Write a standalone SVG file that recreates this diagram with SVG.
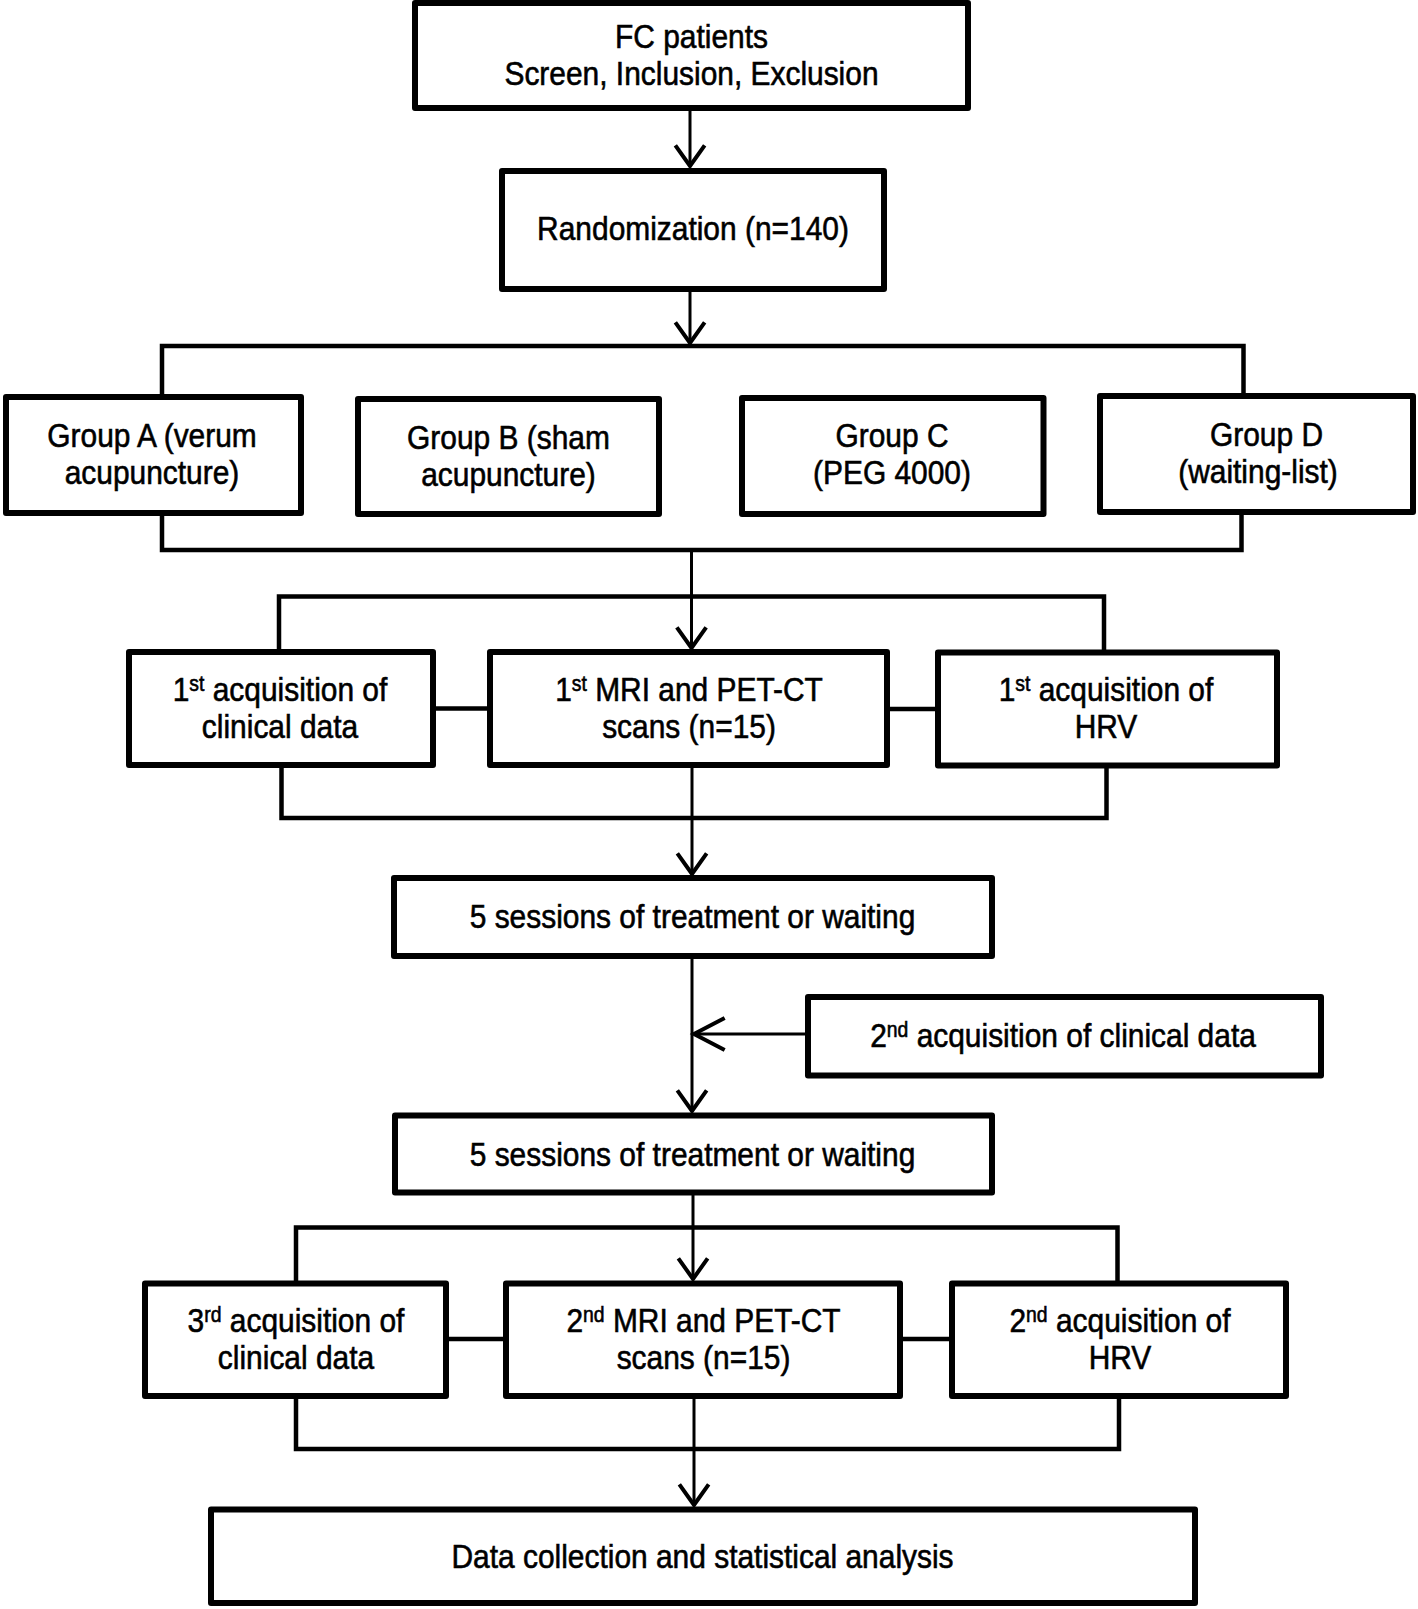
<svg xmlns="http://www.w3.org/2000/svg" width="1418" height="1609" viewBox="0 0 1418 1609">
<style>
.box{fill:#fff;stroke:#000;stroke-width:6;stroke-linejoin:round}
.ln{fill:none;stroke:#000;stroke-width:4.5;stroke-linejoin:miter}
.ar{fill:none;stroke:#000;stroke-width:3}
text{font-family:"Liberation Sans",Arial,sans-serif;font-size:34px;fill:#000;stroke:#000;stroke-width:0.6;text-anchor:middle}
.sup{font-size:22px}
</style>
<defs>
<marker id="ah" markerUnits="userSpaceOnUse" markerWidth="40" markerHeight="40" viewBox="-20 -15 24 30" refX="0" refY="0" orient="auto" overflow="visible">
<path d="M-15.5,-11 L0,0 L-15.5,11" fill="none" stroke="#000" stroke-width="3"/>
</marker>
<marker id="ahl" markerUnits="userSpaceOnUse" markerWidth="40" markerHeight="40" viewBox="-26 -15 30 30" refX="0" refY="0" orient="auto" overflow="visible">
<path d="M-23,-12 L0,0 L-23,12" fill="none" stroke="#000" stroke-width="3"/>
</marker>
</defs>
<rect width="1418" height="1609" fill="#fff"/>
<g id="connectors">
<path class="ln" d="M162,397 V346 H1243.5 V396"/>
<path class="ln" d="M162,513 V550 H1241.5 V512"/>
<path class="ln" d="M279,652 V596.5 H1104 V652.5"/>
<path class="ln" d="M281.5,765 V818 H1106.5 V765.5"/>
<path class="ln" d="M433,708.5 H490"/>
<path class="ln" d="M887,709 H938"/>
<path class="ln" d="M296,1283.5 V1227.5 H1117.5 V1283.5"/>
<path class="ln" d="M296,1396 V1449 H1119 V1396"/>
<path class="ln" d="M446,1339 H506"/>
<path class="ln" d="M900,1339 H952"/>
<path class="ar" d="M690,108 V166" marker-end="url(#ah)"/>
<path class="ar" d="M690,289 V343" marker-end="url(#ah)"/>
<path class="ar" d="M691.5,550 V648" marker-end="url(#ah)"/>
<path class="ar" d="M692,765 V874" marker-end="url(#ah)"/>
<path class="ar" d="M692,956 V1111"  marker-end="url(#ah)"/>
<path class="ar" d="M808,1034 H694" marker-end="url(#ahl)"/>
<path class="ar" d="M693,1192 V1279" marker-end="url(#ah)"/>
<path class="ar" d="M694,1396 V1505" marker-end="url(#ah)"/>
</g>
<g id="fc">
<rect class="box" x="415" y="3" width="553" height="105"/>
<text x="0" y="48" transform="matrix(0.88 0 0 1 691.5 0)">FC patients</text>
<text x="0" y="85" transform="matrix(0.88 0 0 1 691.5 0)">Screen, Inclusion, Exclusion</text>
</g>
<g id="randomization">
<rect class="box" x="502" y="171" width="382" height="118"/>
<text x="0" y="240" transform="matrix(0.88 0 0 1 693 0)">Randomization (n=140)</text>
</g>
<g id="groupA">
<rect class="box" x="6" y="397" width="295" height="116"/>
<text x="0" y="447.5" transform="matrix(0.88 0 0 1 152 0)">Group A (verum</text>
<text x="0" y="484" transform="matrix(0.88 0 0 1 152 0)">acupuncture)</text>
</g>
<g id="groupB">
<rect class="box" x="358" y="399" width="301" height="115"/>
<text x="0" y="449" transform="matrix(0.88 0 0 1 508.5 0)">Group B (sham</text>
<text x="0" y="486" transform="matrix(0.88 0 0 1 508.5 0)">acupuncture)</text>
</g>
<g id="groupC">
<rect class="box" x="742" y="398" width="301.5" height="116"/>
<text x="0" y="447" transform="matrix(0.88 0 0 1 892 0)">Group C</text>
<text x="0" y="484" transform="matrix(0.88 0 0 1 892 0)">(PEG 4000)</text>
</g>
<g id="groupD">
<rect class="box" x="1100" y="396" width="313" height="116"/>
<text x="0" y="446" transform="matrix(0.88 0 0 1 1266.5 0)">Group D</text>
<text x="0" y="483" transform="matrix(0.88 0 0 1 1258 0)">(waiting-list)</text>
</g>
<g id="clinical1">
<rect class="box" x="129" y="652" width="304" height="113"/>
<text x="0" y="701" transform="matrix(0.88 0 0 1 280 0)">1<tspan class="sup" dy="-10">st</tspan><tspan dy="10"> acquisition of</tspan></text>
<text x="0" y="738" transform="matrix(0.88 0 0 1 280 0)">clinical data</text>
</g>
<g id="mri1">
<rect class="box" x="490" y="652" width="397" height="113"/>
<text x="0" y="701" transform="matrix(0.88 0 0 1 689 0)">1<tspan class="sup" dy="-10">st</tspan><tspan dy="10"> MRI and PET-CT</tspan></text>
<text x="0" y="738" transform="matrix(0.88 0 0 1 689 0)">scans (n=15)</text>
</g>
<g id="hrv1">
<rect class="box" x="938" y="652.5" width="339" height="113"/>
<text x="0" y="701" transform="matrix(0.88 0 0 1 1106 0)">1<tspan class="sup" dy="-10">st</tspan><tspan dy="10"> acquisition of</tspan></text>
<text x="0" y="738" transform="matrix(0.88 0 0 1 1106 0)">HRV</text>
</g>
<g id="sessions1">
<rect class="box" x="394" y="878" width="598" height="78"/>
<text x="0" y="928" transform="matrix(0.88 0 0 1 692.5 0)">5 sessions of treatment or waiting</text>
</g>
<g id="clinical2">
<rect class="box" x="808" y="997" width="513" height="78.5"/>
<text x="0" y="1047" transform="matrix(0.88 0 0 1 1063 0)">2<tspan class="sup" dy="-10">nd</tspan><tspan dy="10"> acquisition of clinical data</tspan></text>
</g>
<g id="sessions2">
<rect class="box" x="395" y="1115.5" width="597" height="77"/>
<text x="0" y="1166" transform="matrix(0.88 0 0 1 692.5 0)">5 sessions of treatment or waiting</text>
</g>
<g id="clinical3">
<rect class="box" x="145" y="1283.5" width="301" height="112.5"/>
<text x="0" y="1332" transform="matrix(0.88 0 0 1 296 0)">3<tspan class="sup" dy="-10">rd</tspan><tspan dy="10"> acquisition of</tspan></text>
<text x="0" y="1369" transform="matrix(0.88 0 0 1 296 0)">clinical data</text>
</g>
<g id="mri2">
<rect class="box" x="506" y="1283.5" width="394" height="112.5"/>
<text x="0" y="1332" transform="matrix(0.88 0 0 1 703.5 0)">2<tspan class="sup" dy="-10">nd</tspan><tspan dy="10"> MRI and PET-CT</tspan></text>
<text x="0" y="1369" transform="matrix(0.88 0 0 1 703.5 0)">scans (n=15)</text>
</g>
<g id="hrv2">
<rect class="box" x="952" y="1283.5" width="334" height="112.5"/>
<text x="0" y="1332" transform="matrix(0.88 0 0 1 1120 0)">2<tspan class="sup" dy="-10">nd</tspan><tspan dy="10"> acquisition of</tspan></text>
<text x="0" y="1369" transform="matrix(0.88 0 0 1 1120 0)">HRV</text>
</g>
<g id="final">
<rect class="box" x="211" y="1509.5" width="984" height="93.5"/>
<text x="0" y="1568" transform="matrix(0.88 0 0 1 702.5 0)">Data collection and statistical analysis</text>
</g>
</svg>
